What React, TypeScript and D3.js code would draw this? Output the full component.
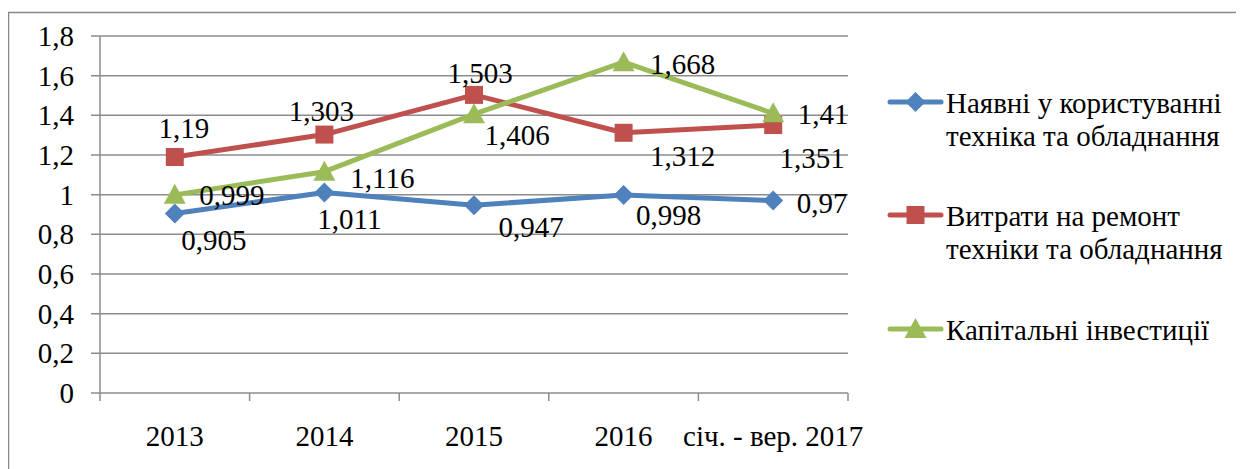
import React from "react";
import * as d3 from "d3";

const categories = ["2013", "2014", "2015", "2016", "січ. - вер. 2017"];
const seriesNames = [
  ["Наявні у користуванні", "техніка та обладнання"],
  ["Витрати на ремонт", "техніки та обладнання"],
  ["Капітальні інвестиції"],
];
const blueValues = [0.905, 1.011, 0.947, 0.998, 0.97];
const redValues = [1.19, 1.303, 1.503, 1.312, 1.351];
const greenValues = [0.999, 1.116, 1.406, 1.668, 1.41];
const yTicks = [0, 0.2, 0.4, 0.6, 0.8, 1, 1.2, 1.4, 1.6, 1.8];

// label offsets (dx, baseline dy) relative to point
const blueLabelOff = [[39, 36], [25, 37], [57, 32], [45, 30], [49, 12]];
const redLabelOff = [[9, -19], [-3, -14], [6, -12], [59, 33], [39, 43]];
const greenLabelOff = [[57, 10], [58, 16], [43, 31], [59, 12], [50, 11]];

const W = 1244, H = 469;
const FONT = "Liberation Serif";
const FS = 29;
const GRID = "#8c8c8c";

const fmt = (v: number) => String(v).replace(".", ",");

export default function App() {
  const x = d3.scaleBand<string>().domain(categories).range([100, 848]);
  const y = d3.scaleLinear().domain([0, 1.8]).range([393, 36]);
  const cx = (c: string) => (x(c) as number) + x.bandwidth() / 2;
  const line = d3
    .line<number>()
    .x((_, i) => cx(categories[i]))
    .y((d) => y(d));

  const series = [
    { vals: blueValues, color: "#4f81bd", marker: "diamond", off: blueLabelOff },
    { vals: redValues, color: "#c0504d", marker: "square", off: redLabelOff },
    { vals: greenValues, color: "#9bbb59", marker: "triangle", off: greenLabelOff },
  ];

  const markerPath = (type: string, px: number, py: number) => {
    if (type === "diamond") {
      const r = 10;
      return `M${px},${py - r}L${px + r},${py}L${px},${py + r}L${px - r},${py}Z`;
    }
    if (type === "square") {
      const r = 9;
      return `M${px - r},${py - r}H${px + r}V${py + r}H${px - r}Z`;
    }
    const r = 10;
    return `M${px},${py - r - 1}L${px + r + 1},${py + r - 1}L${px - r - 1},${py + r - 1}Z`;
  };

  const legendY = [102, 215, 329];

  return (
    <div style={{ margin: "-8px 0 0 -8px", fontFamily: FONT }}>
      <svg width={W} height={H} style={{ display: "block" }}>
        <rect x={0} y={0} width={W} height={H} fill="#fff" />
        <path d={`M8.5,${H + 2}V12.5H${W + 2}`} fill="none" stroke="#878787" strokeWidth={1.5} />
        {yTicks.map((t) => (
          <line key={t} x1={91} x2={848} y1={y(t)} y2={y(t)} stroke={GRID} strokeWidth={1.5} />
        ))}
        <line x1={100} x2={100} y1={36} y2={393} stroke={GRID} strokeWidth={1.5} />
        {[...categories.map((c) => x(c) as number), 848].map((v, i) => (
          <line key={i} x1={v} x2={v} y1={393} y2={401} stroke={GRID} strokeWidth={1.5} />
        ))}
        {yTicks.map((t) => (
          <text key={t} x={74} y={y(t) + 10} textAnchor="end" fontSize={FS} fontFamily={FONT} fill="#000">
            {fmt(Math.round(t * 10) / 10)}
          </text>
        ))}
        {categories.map((c) => (
          <text key={c} x={cx(c)} y={446} textAnchor="middle" fontSize={FS} fontFamily={FONT} fill="#000">
            {c}
          </text>
        ))}
        {series.map((s, si) => (
          <g key={si}>
            <path d={line(s.vals) as string} fill="none" stroke={s.color} strokeWidth={5} strokeLinejoin="round" />
            {s.vals.map((v, i) => (
              <path key={i} d={markerPath(s.marker, cx(categories[i]), y(v))} fill={s.color} />
            ))}
          </g>
        ))}
        {series.map((s, si) =>
          s.vals.map((v, i) => (
            <text
              key={`${si}-${i}`}
              x={cx(categories[i]) + s.off[i][0]}
              y={y(v) + s.off[i][1]}
              textAnchor="middle"
              fontSize={FS}
              fontFamily={FONT}
              fill="#000"
            >
              {fmt(v)}
            </text>
          ))
        )}
        {series.map((s, si) => (
          <g key={si}>
            <line x1={890} x2={941} y1={legendY[si]} y2={legendY[si]} stroke={s.color} strokeWidth={5} strokeLinecap="round" />
            <path d={markerPath(s.marker, 915.5, legendY[si])} fill={s.color} />
            {seriesNames[si].map((ln, li) => (
              <text key={li} x={946} y={legendY[si] + 11 + li * 33} fontSize={FS} fontFamily={FONT} fill="#000">
                {ln}
              </text>
            ))}
          </g>
        ))}
      </svg>
    </div>
  );
}
